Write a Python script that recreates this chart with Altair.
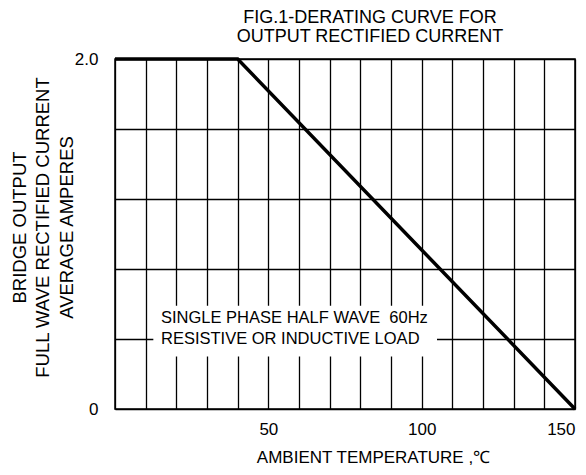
import altair as alt
import pandas as pd

# Derating curve
temperature = [0, 40, 150]
current = [2.0, 2.0, 0.0]

# Axis ticks / grid
x_grid = list(range(0, 151, 10))
y_grid = [0, 0.4, 0.8, 1.2, 1.6, 2.0]

# Annotation
note_lines = ["SINGLE PHASE HALF WAVE\u00a0\u00a060Hz", "RESISTIVE OR INDUCTIVE LOAD"]
note_x = [15, 15]
note_y = [0.52, 0.40]
box_x, box_x2 = [12.5], [105]
box_y, box_y2 = [0.30], [0.59]

title_lines = ["FIG.1-DERATING CURVE FOR", "OUTPUT RECTIFIED CURRENT"]
y_title = ["BRIDGE OUTPUT", "FULL WAVE RECTIFIED CURRENT", "AVERAGE AMPERES"]
x_title = "AMBIENT TEMPERATURE ,\u2103"

FONT = "Liberation Sans"

curve_df = pd.DataFrame({"t": temperature, "i": current})
note_df = pd.DataFrame({"text": note_lines, "x": note_x, "y": note_y})
box_df = pd.DataFrame({"x": box_x, "x2": box_x2, "y": box_y, "y2": box_y2})

xscale = alt.Scale(domain=[0, 150], nice=False, zero=False)
yscale = alt.Scale(domain=[0, 2], nice=False)

xaxis = alt.Axis(
    values=x_grid, tickCount=len(x_grid), format="d", labelOverlap=False,
    labelExpr="(datum.value % 50 == 0 && datum.value > 0) ? datum.label : ''",
    labelFontSize=17, labelFont=FONT, labelColor="black", labelPadding=12,
    ticks=False, domain=False,
    grid=True, gridColor="black", gridOpacity=1, gridWidth=1.3,
    title=x_title, titleFont=FONT, titleFontSize=17, titleFontWeight="normal",
    titleColor="black", titleX=258, titleY=48, titleBaseline="middle", titleAlign="center",
)
yaxis = alt.Axis(
    values=y_grid, tickCount=len(y_grid), labelOverlap=False,
    labelExpr="datum.value == 0 ? '0' : (datum.value == 2 ? '2.0' : '')",
    labelFontSize=17, labelFont=FONT, labelColor="black", labelPadding=17,
    ticks=False, domain=False,
    grid=True, gridColor="black", gridOpacity=1, gridWidth=1.3,
    title=y_title, titleFont=FONT, titleFontSize=18.5, titleFontWeight="normal",
    titleColor="black", titleX=-96, titleY=168, titleBaseline="middle",
    titleAlign="center", titleAngle=270, titleLineHeight=23.5,
)

box = alt.Chart(box_df).mark_rect(color="white", opacity=1).encode(
    x=alt.X("x:Q", scale=xscale, axis=xaxis),
    x2="x2:Q",
    y=alt.Y("y:Q", scale=yscale, axis=yaxis),
    y2="y2:Q",
)

notes = alt.Chart(note_df).mark_text(
    align="left", baseline="middle", font=FONT, fontSize=16.5, color="black"
).encode(
    x=alt.X("x:Q", scale=xscale),
    y=alt.Y("y:Q", scale=yscale),
    text="text:N",
)

curve = alt.Chart(curve_df).mark_line(color="black", strokeWidth=3.5, clip=False).encode(
    x=alt.X("t:Q", scale=xscale),
    y=alt.Y("i:Q", scale=yscale),
)

chart = alt.layer(box, notes, curve).properties(
    width=460, height=350,
    autosize=alt.AutoSizeParams(type="none"),
    padding={"left": 107, "top": 51, "right": 3, "bottom": 57},
    background="white",
    title=alt.TitleParams(
        title_lines, font=FONT, fontSize=18, fontWeight="normal", color="black",
        anchor="middle", dx=25, offset=4, lineHeight=19,
    ),
).configure_view(stroke="black", strokeWidth=1.5)

chart.save("out.html", embed_options={"renderer": "svg", "actions": False})
